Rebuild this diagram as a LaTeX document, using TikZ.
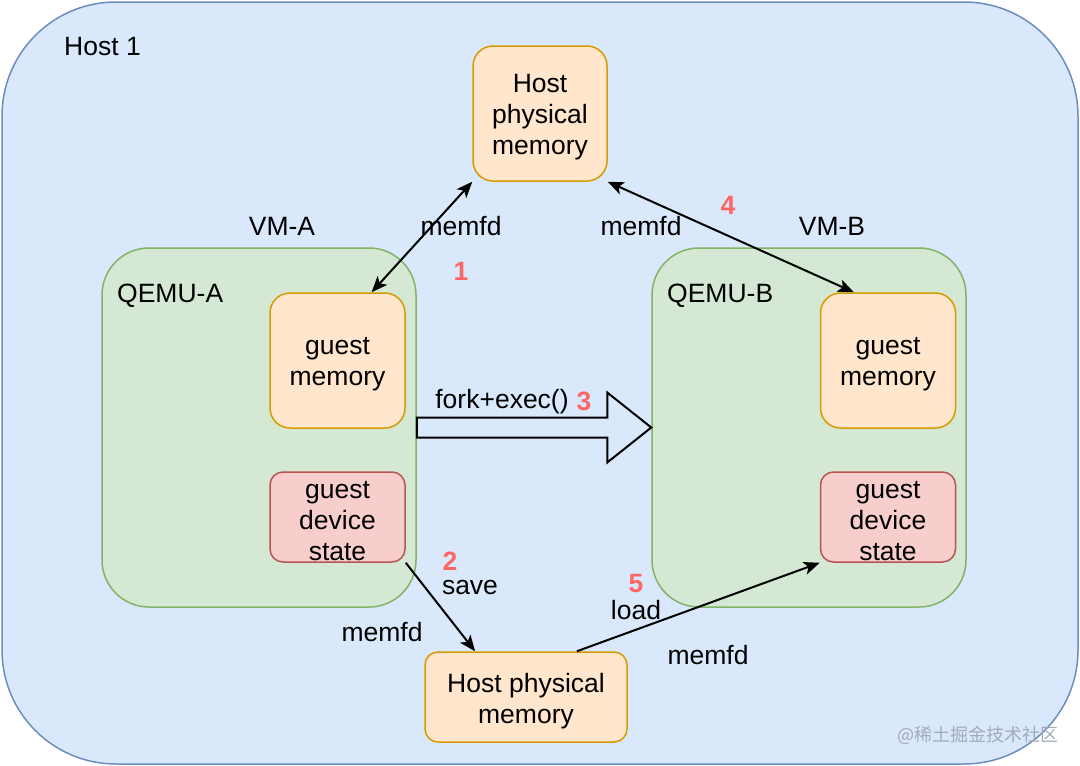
\documentclass[tikz,border=0pt]{standalone}
\usepackage{fontspec}
\setmainfont{Liberation Sans}
\newfontfamily\cjkfont{Noto Sans CJK SC}
\usetikzlibrary{arrows.meta,calc}
\definecolor{hostfill}{HTML}{DAE8FC}
\definecolor{hostdraw}{HTML}{6C8EBF}
\definecolor{qfill}{HTML}{D5E8D4}
\definecolor{qdraw}{HTML}{82B366}
\definecolor{mfill}{HTML}{FFE6CC}
\definecolor{mdraw}{HTML}{D79B00}
\definecolor{sfill}{HTML}{F8CECC}
\definecolor{sdraw}{HTML}{B85450}
\definecolor{numred}{HTML}{FF6666}
\definecolor{wmgray}{HTML}{A3ABB8}
\begin{document}
\begin{tikzpicture}[x=1pt,y=-1pt,
  >={Stealth[length=16pt,width=13pt,inset=4pt]},
  txt/.style={font=\fontsize{26.5}{31}\selectfont},
  box/.style={txt, draw, line width=1.5pt, inner sep=0pt, align=center},
  intext/.style={label={[txt, inner sep=0pt, align=center, yshift=-4pt]center:#1}},
  mem/.style={box, fill=mfill, draw=mdraw, rounded corners=20pt},
  devst/.style={box, fill=sfill, draw=sdraw, rounded corners=13pt},
  qemu/.style={box, fill=qfill, draw=qdraw, rounded corners=47pt},
  lbl/.style={txt, inner sep=0pt},
  num/.style={inner sep=0pt, text=numred, font=\fontsize{26.5}{31}\selectfont\bfseries},
  conn/.style={line width=2pt, ->},
  biconn/.style={line width=2pt, <->}
]
\useasboundingbox (0,0) rectangle (1080,766);
% outer host
\node[box, draw=hostdraw, fill=hostfill, rounded corners=114pt,
      minimum width=1076pt, minimum height=762pt] (host) at (540,383) {};
\node[lbl, anchor=west] (hostlbl) at (64,47) {Host 1};
% top host physical memory
\node[mem, minimum width=134pt, minimum height=135pt, intext={Host\\physical\\memory}] (hpmT) at (540,113.5) {};
% QEMU boxes
\node[qemu, minimum width=314pt, minimum height=359pt] (qA) at (259,427.5) {};
\node[qemu, minimum width=314pt, minimum height=359pt] (qB) at (809,427.5) {};
\node[lbl, anchor=west] (qAl) at (117,296) {QEMU-A};
\node[lbl, anchor=west] (qBl) at (667,296) {QEMU-B};
\node[lbl] (vmA) at (282,226) {VM-A};
\node[lbl] (vmB) at (832,226) {VM-B};
% guest memory / state
\node[mem, minimum width=135pt, minimum height=135pt, intext={guest\\memory}] (gmA) at (337.5,360.5) {};
\node[mem, minimum width=135pt, minimum height=135pt, intext={guest\\memory}] (gmB) at (888,360.5) {};
\node[devst, minimum width=135pt, minimum height=90pt, intext={guest\\device\\state}] (gdsA) at (337.5,517) {};
\node[devst, minimum width=135pt, minimum height=90pt, intext={guest\\device\\state}] (gdsB) at (888,517) {};
% bottom host physical memory
\node[mem, rounded corners=13pt, minimum width=202pt, minimum height=90pt, intext={Host physical\\memory}] (hpmB) at (526,697) {};
% arrows
\draw[biconn] ($(gmA.north west)!0.75!(gmA.north east)$) -- (hpmT.south west);
\draw[biconn] (hpmT.south east) -- ($(gmB.north west)!0.25!(gmB.north east)$);
\draw[conn] (gdsA.south east) -- ($(hpmB.north west)!0.25!(hpmB.north east)$);
\draw[conn] ($(hpmB.north west)!0.75!(hpmB.north east)$) -- (gdsB.south west);
% big fork arrow
\draw[line width=2pt, fill=hostfill, line join=miter]
  ($(qA.east)+(0,-10)$) -- ($(qB.west)+(-44,-10)$) -- ($(qB.west)+(-44,-35)$)
  -- (qB.west) -- ($(qB.west)+(-44,35)$) -- ($(qB.west)+(-44,10)$)
  -- ($(qA.east)+(0,10)$) -- cycle;
% labels
\node[lbl] (m1) at (461,226) {memfd};
\node[lbl] (m4) at (641,226) {memfd};
\node[num] (n1) at (461,271) {1};
\node[num] (n4) at (728,205) {4};
\node[lbl] (fe) at (502,402) {fork+exec()};
\node[num] (n3) at (584,401) {3};
\node[num] (n2) at (450,561) {2};
\node[lbl] (sv) at (470,587) {save};
\node[lbl] (m2) at (382,632) {memfd};
\node[num] (n5) at (636,584) {5};
\node[lbl] (ld) at (636,610) {load};
\node[lbl] (m5) at (708,655) {memfd};
% watermark
\node[inner sep=0pt, anchor=west, text=wmgray, font=\cjkfont\fontsize{18}{20}\selectfont] (wm) at (897,735) {@稀土掘金技术社区};
\end{tikzpicture}
\end{document}
